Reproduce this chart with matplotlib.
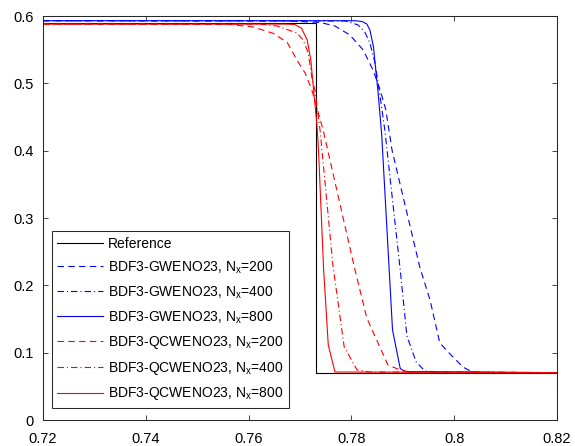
import matplotlib
matplotlib.use("Agg")
import matplotlib.pyplot as plt
from matplotlib.ticker import FormatStrFormatter

plt.rcParams['font.family'] = ['Liberation Sans', 'DejaVu Sans']
plt.rcParams['mathtext.fontset'] = 'custom'
plt.rcParams['mathtext.rm'] = 'Liberation Sans'
plt.rcParams['mathtext.it'] = 'Liberation Sans:italic'

# Reference solution
ref_x = [0.72, 0.7732, 0.7732, 0.82]
ref_y = [0.59, 0.59, 0.07, 0.07]

# BDF3-GWENO23, Nx=200
g200_x = [0.72, 0.7680, 0.7739, 0.7768, 0.7797, 0.7823, 0.7842, 0.7856, 0.7867,
          0.7879, 0.7933, 0.7953, 0.7972, 0.7992, 0.8017, 0.8035, 0.8070, 0.82]
g200_y = [0.593, 0.5926, 0.5904, 0.5852, 0.5718, 0.5495, 0.5198, 0.4901, 0.4604,
          0.4010, 0.2272, 0.1782, 0.1144, 0.0980, 0.0787, 0.0713, 0.0703, 0.0703]

# BDF3-GWENO23, Nx=400
g400_x = [0.72, 0.7788, 0.7813, 0.7826, 0.7836, 0.7846, 0.7856, 0.7865, 0.7895,
          0.7908, 0.7926, 0.7943, 0.7963, 0.82]
g400_y = [0.593, 0.5926, 0.5867, 0.5763, 0.5599, 0.5302, 0.4797, 0.4307, 0.2228,
          0.1248, 0.0861, 0.0728, 0.0713, 0.0703]

# BDF3-GWENO23, Nx=800
g800_x = [0.72, 0.7807, 0.7821, 0.7830, 0.7836, 0.7843, 0.7846, 0.7852, 0.7859,
          0.7873, 0.7880, 0.7895, 0.7904, 0.82]
g800_y = [0.593, 0.593, 0.5918, 0.5881, 0.5792, 0.5540, 0.5302, 0.4857, 0.4233,
          0.2302, 0.1337, 0.0765, 0.0720, 0.0703]

# BDF3-QCWENO23, Nx=200
q200_x = [0.72, 0.7564, 0.7609, 0.7648, 0.7675, 0.7694, 0.7710, 0.7723, 0.7745,
          0.7807, 0.7830, 0.7871, 0.7895, 0.7914, 0.82]
q200_y = [0.588, 0.5874, 0.5837, 0.5742, 0.5609, 0.5347, 0.5153, 0.4902, 0.4307,
          0.2228, 0.1515, 0.0817, 0.0743, 0.0713, 0.0703]

# BDF3-QCWENO23, Nx=400
q400_x = [0.72, 0.7622, 0.7655, 0.7694, 0.7706, 0.7716, 0.7723, 0.7729, 0.7739,
          0.7764, 0.7786, 0.7811, 0.7836, 0.82]
q400_y = [0.588, 0.588, 0.5852, 0.5748, 0.5644, 0.5451, 0.5094, 0.4901, 0.4307,
          0.2302, 0.1084, 0.0743, 0.0713, 0.0703]

# BDF3-QCWENO23, Nx=800
q800_x = [0.72, 0.7671, 0.7690, 0.7703, 0.7714, 0.7721, 0.7727, 0.7733, 0.7736,
          0.7746, 0.7755, 0.7768, 0.82]
q800_y = [0.588, 0.588, 0.5874, 0.5818, 0.5644, 0.5347, 0.4857, 0.4382, 0.4010,
          0.2228, 0.1114, 0.0713, 0.0703]

x_ticks = [0.72, 0.74, 0.76, 0.78, 0.8, 0.82]
y_ticks = [0, 0.1, 0.2, 0.3, 0.4, 0.5, 0.6]

labels = ['Reference',
          r'BDF3-GWENO23, N$_{\rm x}$=200',
          r'BDF3-GWENO23, N$_{\rm x}$=400',
          r'BDF3-GWENO23, N$_{\rm x}$=800',
          r'BDF3-QCWENO23, N$_{\rm x}$=200',
          r'BDF3-QCWENO23, N$_{\rm x}$=400',
          r'BDF3-QCWENO23, N$_{\rm x}$=800']

BLUE = '#0000FF'
RED = '#FF0000'

fig = plt.figure(figsize=(5.75, 4.46), dpi=100)
ax = fig.add_axes([43/575, 26/446, 514/575, 404/446])

lw = 0.8
dashed = (0, (5.8, 3.9))
dashdot = (0, (5.8, 2.7, 1.0, 2.7))

ax.plot(ref_x, ref_y, color='k', lw=lw, label=labels[0])
ax.plot(g200_x, g200_y, color=BLUE, lw=lw, linestyle=dashed, label=labels[1])
ax.plot(g400_x, g400_y, color=BLUE, lw=lw, linestyle=dashdot, label=labels[2])
ax.plot(g800_x, g800_y, color=BLUE, lw=lw, linestyle='-', label=labels[3])
ax.plot(q200_x, q200_y, color=RED, lw=lw, linestyle=dashed, label=labels[4])
ax.plot(q400_x, q400_y, color=RED, lw=lw, linestyle=dashdot, label=labels[5])
ax.plot(q800_x, q800_y, color=RED, lw=lw, linestyle='-', label=labels[6])

ax.set_xlim(0.72, 0.82)
ax.set_ylim(0, 0.6)
ax.set_xticks(x_ticks)
ax.set_yticks(y_ticks)
ax.xaxis.set_major_formatter(FormatStrFormatter('%g'))
ax.yaxis.set_major_formatter(FormatStrFormatter('%g'))

for s in ax.spines.values():
    s.set_color('0.15')
    s.set_linewidth(0.75)
ax.tick_params(direction='in', length=3.6, width=0.6, colors='0.15',
               labelcolor='k', labelsize=10.5, top=True, right=True)
ax.tick_params(axis='x', pad=8.5)
ax.tick_params(axis='y', pad=6.5)

leg = ax.legend(loc='upper left', bbox_to_anchor=(51.7/575, (446-231)/446),
                bbox_transform=fig.transFigure, fontsize=10, frameon=True,
                fancybox=False, edgecolor='0.15', framealpha=1,
                handlelength=3.3, handletextpad=0.35, labelspacing=0.62,
                borderpad=0.4, borderaxespad=0)
leg.get_frame().set_linewidth(0.75)

fig.savefig('out.png', dpi=100)
